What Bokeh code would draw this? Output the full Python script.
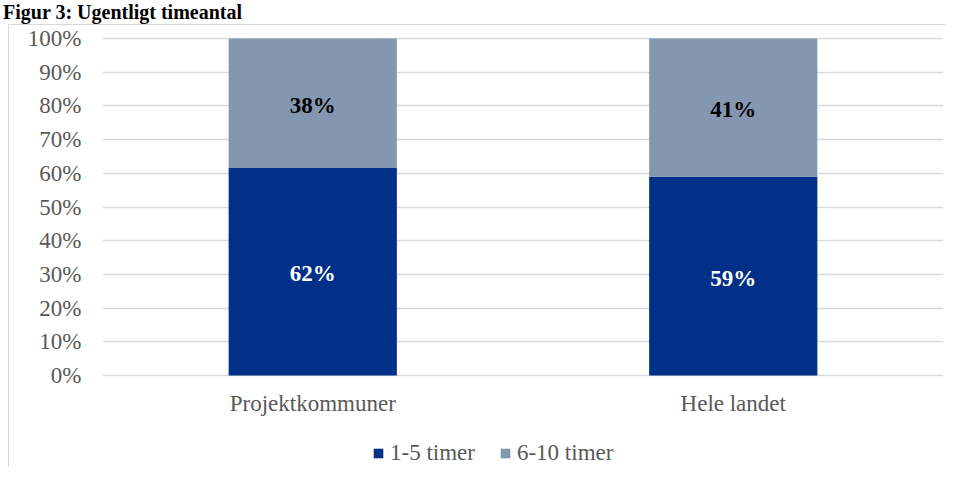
from bokeh.plotting import figure
from bokeh.models import (ColumnDataSource, Range1d, FactorRange, Legend, LegendItem,
                          Div, PrintfTickFormatter, FixedTicker)
from bokeh.layouts import column
from bokeh.core.properties import value
from bokeh.embed import file_html
from bokeh.resources import INLINE

# ---- data ----
title_text = "Figur 3: Ugentligt timeantal"
categories = ["Projektkommuner", "Hele landet"]
series_names = ["1-5 timer", "6-10 timer"]
timer_1_5 = [61.6, 59.0]
timer_6_10 = [38.4, 41.0]
y_ticks = [0, 10, 20, 30, 40, 50, 60, 70, 80, 90, 100]

# ---- style ----
FONT = "Liberation Serif"
DARK = "#003087"
LIGHT = "#8497B0"
GRID = "#d9d9d9"
TXT = "#595959"
BORDER = "1px solid #d9d9d9"
W = 937

title = Div(text=f'<span style="font-family:\'{FONT}\';font-size:20px;font-weight:bold;'
                 f'color:black;white-space:nowrap;padding-left:3px;">{title_text}</span>',
            width=946, height=24, styles={"line-height": "24px", "margin": "0"})

src = ColumnDataSource(dict(cat=categories, s1=timer_1_5, s2=timer_6_10))

p = figure(x_range=FactorRange(*categories), y_range=Range1d(-0.3, 100.3),
           width=W, height=395, output_backend="svg", toolbar_location=None,
           min_border_left=93, min_border_right=3, min_border_top=12,
           min_border_bottom=44, outline_line_color=None,
           border_fill_color="white", background_fill_color="white")
p.styles = {"border-left": BORDER, "border-top": BORDER, "margin-left": "8px"}

rs = p.vbar_stack(["s1", "s2"], x="cat", width=0.4, color=[DARK, LIGHT],
                  line_color=None, source=src)

# data labels
lx, ly, lt, lc = [], [], [], []
for i, c in enumerate(categories):
    a, b = timer_1_5[i], timer_6_10[i]
    lx += [c, c]
    ly += [a / 2, a + b / 2]
    lt += [f"{round(a)}%", f"{round(b)}%"]
    lc += ["white", "black"]
lsrc = ColumnDataSource(dict(x=lx, y=ly, t=lt, c=lc))
p.text(x="x", y="y", text="t", text_color="c", source=lsrc,
       text_font=value(FONT), text_font_size="23px", text_font_style="bold",
       text_align="center", text_baseline="middle", y_offset=2)

# axes
for ax in (p.xaxis, p.yaxis):
    ax.axis_line_color = None
    ax.major_tick_line_color = None
    ax.minor_tick_line_color = None
    ax.major_tick_out = 0
    ax.major_tick_in = 0
    ax.major_label_text_font = FONT
    ax.major_label_text_font_size = "23px"
    ax.major_label_text_color = TXT
p.yaxis.ticker = FixedTicker(ticks=y_ticks)
p.yaxis.formatter = PrintfTickFormatter(format="%d%%")
p.yaxis.major_label_standoff = 21
p.xaxis.major_label_standoff = 14

p.xgrid.grid_line_color = None
p.ygrid.ticker = FixedTicker(ticks=y_ticks)
p.ygrid.grid_line_color = GRID
p.ygrid.grid_line_width = 1.3

# legend strip (separate small figure so the legend is not clipped)
pl = figure(width=W, height=48, output_backend="svg", toolbar_location=None,
            x_axis_type=None, y_axis_type=None,
            min_border_left=93, min_border_right=3, min_border_top=0, min_border_bottom=0,
            outline_line_color=None, x_range=(0, 1), y_range=(0, 1))
pl.grid.visible = False
pl.styles = {"border-left": BORDER, "margin-left": "8px"}
proxy = [pl.vbar(x=[-5], top=[-5], width=0.1, color=col, line_color=None)
         for col in (DARK, LIGHT)]
legend = Legend(items=[LegendItem(label=series_names[i], renderers=[proxy[i]]) for i in range(2)],
                orientation="horizontal", location=(270, 1),
                glyph_width=12, glyph_height=12, label_standoff=6, spacing=24,
                padding=0, margin=0, border_line_color=None, background_fill_alpha=0,
                label_text_font=FONT, label_text_font_size="23px", label_text_color=TXT)
pl.add_layout(legend, "center")

layout = column(title, p, pl, spacing=0)
open("out.html", "w").write(file_html(layout, INLINE))
